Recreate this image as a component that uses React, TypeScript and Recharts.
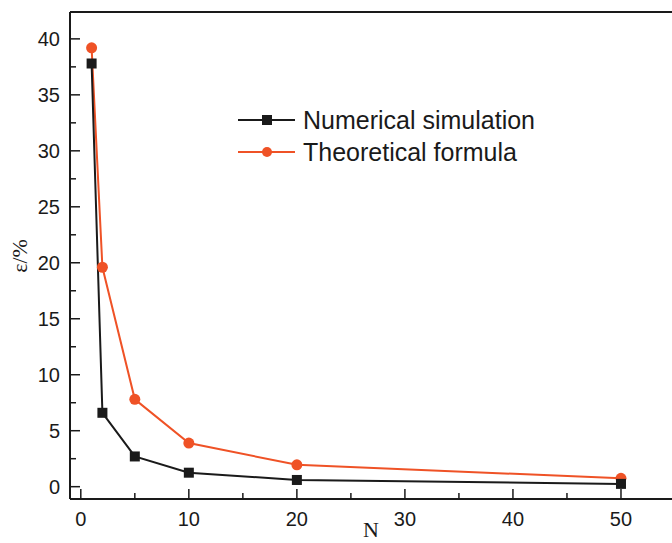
import React from 'react';
import {
  LineChart,
  Line,
  XAxis,
  YAxis,
  Legend,
  ReferenceLine
} from 'recharts';

const nValues = [1, 2, 5, 10, 20, 50];
const numericalSim = [37.8, 6.6, 2.7, 1.25, 0.6, 0.25];
const theoreticalFormula = [39.2, 19.6, 7.8, 3.9, 1.95, 0.75];

const xTicks = [0, 5, 10, 15, 20, 25, 30, 35, 40, 45, 50];
const yTicks = [0, 2.5, 5, 7.5, 10, 12.5, 15, 17.5, 20, 22.5, 25, 27.5, 30, 32.5, 35, 37.5, 40];

const BLACK = '#1a1a1a';
const ORANGE = '#ef5226';
const SANS = '"Liberation Sans", Arial, sans-serif';
const SERIF = '"Liberation Serif", "Times New Roman", serif';

const data = nValues.map((n, i) => ({
  N: n,
  numerical: numericalSim[i],
  theoretical: theoreticalFormula[i]
}));

// inward ticks, labels only on the major ones
const XTick = (props: any) => {
  const { x, y, payload } = props;
  const v = payload.value;
  const major = v % 10 === 0;
  return (
    <g>
      <line x1={x} x2={x} y1={y} y2={y - (major ? 10 : 6)} stroke={BLACK} strokeWidth={1.5} />
      {major && (
        <text x={x} y={y + 27} textAnchor="middle" fontSize={20} fontFamily={SANS} fill={BLACK}>
          {v}
        </text>
      )}
    </g>
  );
};

const YTick = (props: any) => {
  const { x, y, payload } = props;
  const v = payload.value;
  const major = v % 5 === 0;
  return (
    <g>
      <line x1={x} x2={x + (major ? 10 : 6)} y1={y} y2={y} stroke={BLACK} strokeWidth={1.5} />
      {major && (
        <text x={x - 10} y={y + 7} textAnchor="end" fontSize={20} fontFamily={SANS} fill={BLACK}>
          {v}
        </text>
      )}
    </g>
  );
};

const SquareDot = (props: any) => {
  const { cx, cy } = props;
  if (cx == null || cy == null) return null;
  return <rect x={cx - 5} y={cy - 5} width={10} height={10} fill={BLACK} />;
};

const CircleDot = (props: any) => {
  const { cx, cy } = props;
  if (cx == null || cy == null) return null;
  return <circle cx={cx} cy={cy} r={5.5} fill={ORANGE} />;
};

const LegendContent = () => (
  <svg width={320} height={66}>
    <line x1={0} x2={57} y1={15} y2={15} stroke={BLACK} strokeWidth={2} />
    <rect x={24} y={10} width={10} height={10} fill={BLACK} />
    <text x={65} y={24} fontSize={25} fontFamily={SANS} fill={BLACK}>Numerical simulation</text>
    <line x1={0} x2={57} y1={47} y2={47} stroke={ORANGE} strokeWidth={2} />
    <circle cx={29} cy={47} r={5} fill={ORANGE} />
    <text x={65} y={56} fontSize={25} fontFamily={SANS} fill={BLACK}>Theoretical formula</text>
  </svg>
);

export default function App() {
  return (
    <div style={{ position: 'absolute', left: 0, top: 0, width: 672, height: 543, overflow: 'hidden', background: '#fff' }}>
      <LineChart width={675} height={543} data={data} margin={{ top: 12, right: 0, bottom: 0, left: 0 }}>
        <XAxis
          dataKey="N"
          type="number"
          domain={[-1, 55]}
          ticks={xTicks}
          interval={0}
          allowDataOverflow
          height={44}
          tickSize={0}
          tickMargin={0}
          tick={<XTick />}
          axisLine={{ stroke: BLACK, strokeWidth: 2 }}
        />
        <YAxis
          type="number"
          domain={[-1.1, 42.4]}
          ticks={yTicks}
          interval={0}
          allowDataOverflow
          width={70}
          tickSize={0}
          tickMargin={0}
          tick={<YTick />}
          axisLine={{ stroke: BLACK, strokeWidth: 2 }}
        />
        <ReferenceLine y={42.4} stroke={BLACK} strokeWidth={2} />
        <Legend
          layout="vertical"
          align="center"
          verticalAlign="middle"
          content={<LegendContent />}
          wrapperStyle={{ position: 'absolute', left: 238, top: 105, width: 320, height: 66 }}
        />
        <Line
          dataKey="theoretical"
          stroke={ORANGE}
          strokeWidth={2}
          dot={<CircleDot />}
          activeDot={false}
          isAnimationActive={false}
        />
        <Line
          dataKey="numerical"
          stroke={BLACK}
          strokeWidth={2}
          dot={<SquareDot />}
          activeDot={false}
          isAnimationActive={false}
        />
      </LineChart>
      <div
        style={{
          position: 'absolute',
          left: 20,
          top: 256,
          transform: 'translate(-50%, -50%) rotate(-90deg)',
          fontFamily: SERIF,
          fontSize: 22,
          color: BLACK,
          whiteSpace: 'nowrap'
        }}
      >
        ε/%
      </div>
      <div
        style={{
          position: 'absolute',
          left: 371,
          top: 519,
          transform: 'translateX(-50%)',
          fontFamily: SERIF,
          fontSize: 22,
          lineHeight: '22px',
          color: BLACK
        }}
      >
        N
      </div>
    </div>
  );
}
